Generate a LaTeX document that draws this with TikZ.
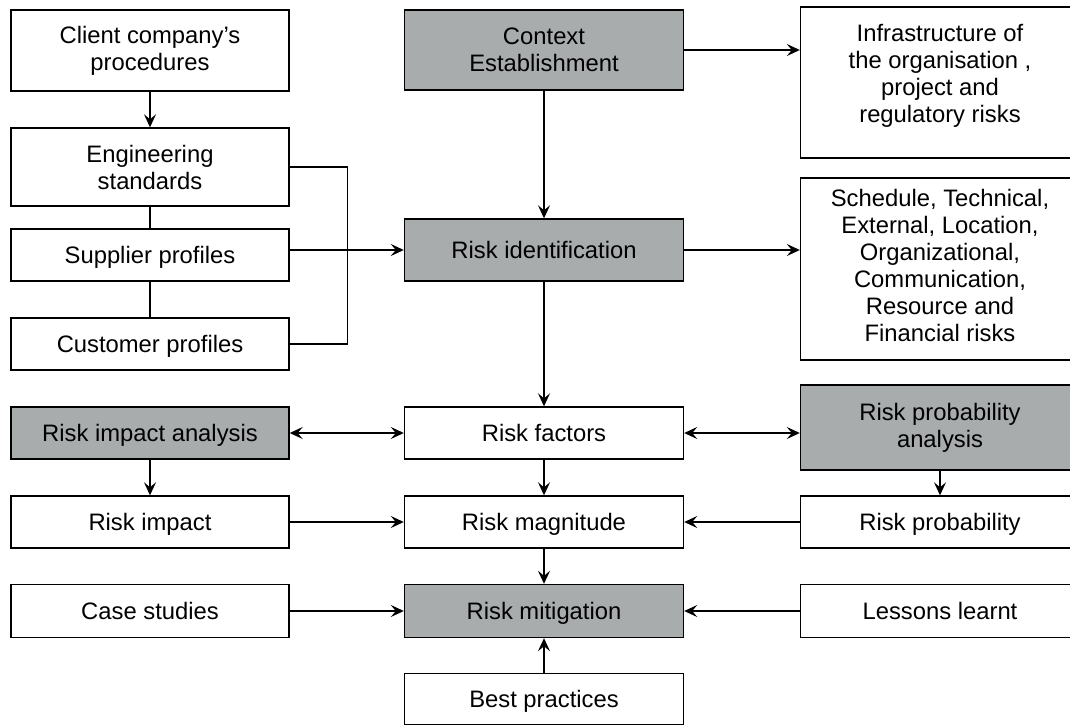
\documentclass[tikz,border=0pt]{standalone}
\usepackage{fontspec}
\setmainfont{Liberation Sans}
\usetikzlibrary{arrows.meta}
\definecolor{boxgray}{RGB}{168,172,173}
\newcommand\dfont{\fontsize{23.8}{27}\selectfont}
\begin{document}
\begin{tikzpicture}[x=1pt,y=-1pt,
  box/.style={draw, line width=1.4pt, inner sep=0pt, align=center, font=\dfont, minimum width=278pt},
  gbox/.style={box, fill=boxgray},
  one/.style={text height=17.4pt, text depth=0pt},
  txt/.style={inner sep=0pt, align=center, font=\dfont},
  conn/.style={line width=1.3pt},
  arr/.style={conn, -{Stealth[length=13pt,width=12pt,inset=5pt]}},
  darr/.style={conn, {Stealth[length=13pt,width=12pt,inset=5pt]}-{Stealth[length=13pt,width=12pt,inset=5pt]}}]
\useasboundingbox (0,0) rectangle (1070,726);
\clip (0,0) rectangle (1070,726);
% left column
\node[box, minimum height=81pt] (client) at (150,50.5) {Client company’s\\procedures};
\node[box, minimum height=78pt] (eng) at (150,167) {Engineering\\standards};
\node[box, one, minimum height=52pt] (supp) at (150,255) {Supplier profiles};
\node[box, one, minimum height=52pt] (cust) at (150,344) {Customer profiles};
\node[gbox, one, minimum height=52pt] (ria) at (150,433) {Risk impact analysis};
\node[box, one, minimum height=52pt] (ri) at (150,522) {Risk impact};
\node[box, one, minimum height=53pt] (case) at (150,611) {Case studies};
% center column
\node[gbox, minimum height=80pt, minimum width=279pt] (ctx) at (544,50) {Context\\Establishment};
\node[gbox, one, minimum height=62pt, minimum width=279pt] (rid) at (544,250) {Risk identification};
\node[box, one, minimum height=52pt, minimum width=279pt] (rf) at (544,433) {Risk factors};
\node[box, one, minimum height=52pt, minimum width=279pt] (rm) at (544,522) {Risk magnitude};
\node[gbox, one, minimum height=53pt, minimum width=279pt] (mit) at (544,611) {Risk mitigation};
\node[box, one, minimum height=51pt, minimum width=279pt] (best) at (544,699) {Best practices};
% right column
\node[box, minimum height=151pt, minimum width=279pt] (infra) at (940,82.5) {};
\node[txt] (infraT) at (940,76) {Infrastructure of\\the organisation ,\\project and\\regulatory risks};
\node[box, minimum height=182pt, minimum width=279pt] (sched) at (940,269) {};
\node[txt] (schedT) at (940,265) {Schedule, Technical,\\External, Location,\\Organizational,\\Communication,\\Resource and\\Financial risks};
\node[gbox, minimum height=85pt, minimum width=279pt] (rpa) at (940,427.5) {Risk probability\\analysis};
\node[box, one, minimum height=52pt, minimum width=279pt] (rp) at (940,522) {Risk probability};
\node[box, one, minimum height=53pt, minimum width=279pt] (ll) at (940,611) {Lessons learnt};
% connectors
\draw[arr] (client) -- (eng);
\draw[conn] (eng) -- (supp);
\draw[conn] (supp) -- (cust);
\draw[conn] (eng.east) -- ++(58,0) |- (cust.east);
\draw[arr] (rid.west -| supp.east) -- (rid.west);
\draw[arr] (ctx.east) -- (ctx.east -| infra.west);
\draw[arr] (ctx) -- (rid);
\draw[arr] (rid.east) -- (rid.east -| sched.west);
\draw[arr] (rid) -- (rf);
\draw[darr] (ria.east) -- (rf.west);
\draw[darr] (rf.east) -- (rf.east -| rpa.west);
\draw[arr] (ria) -- (ri);
\draw[arr] (rpa) -- (rp);
\draw[arr] (rf) -- (rm);
\draw[arr] (ri) -- (rm);
\draw[arr] (rp) -- (rm);
\draw[arr] (rm) -- (mit);
\draw[arr] (case) -- (mit);
\draw[arr] (ll) -- (mit);
\draw[arr] (best) -- (mit);
\end{tikzpicture}
\end{document}
